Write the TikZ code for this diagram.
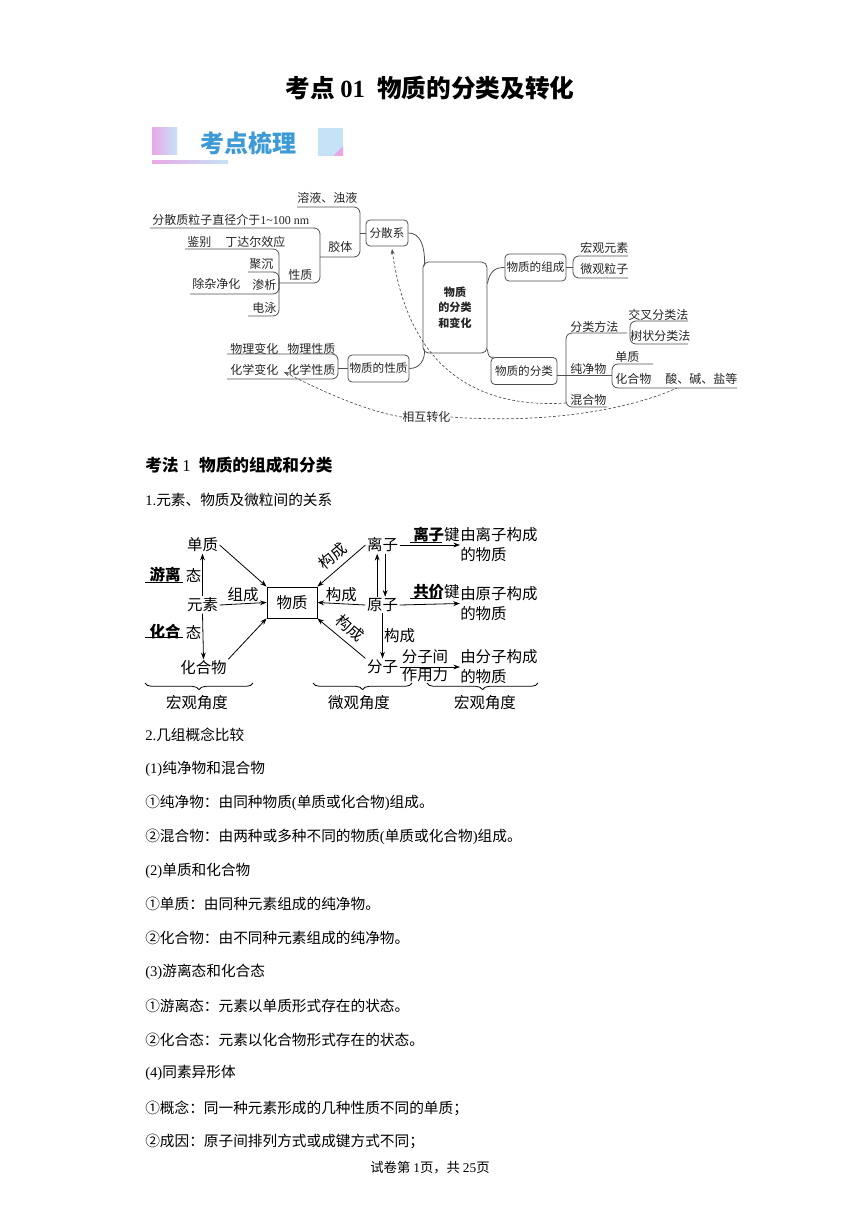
\documentclass[tikz,border=0pt]{standalone}
\usepackage{fontspec}
\setmainfont{Noto Sans CJK SC}
\newfontfamily\latf{Liberation Serif}
\newcommand\latn[1]{{\latf #1}}
\usetikzlibrary{decorations.pathreplacing,calc,arrows.meta}
\definecolor{bnblue}{HTML}{3C9AD6}
\definecolor{bnpink}{HTML}{E9A8E5}
\definecolor{bnlblue}{HTML}{C6E2F7}
\definecolor{lncol}{HTML}{505050}
\begin{document}
\begin{tikzpicture}[x=0.75pt,y=-0.75pt,
  tx/.style={inner sep=0pt, anchor=west},
  mm/.style={tx, font=\fontsize{9}{10}\selectfont, text=black!85},
  ln/.style={draw=lncol, line width=0.6pt, rounded corners=4.5pt},
  mmbox/.style={draw=lncol, line width=0.6pt, rounded corners=3pt, inner sep=0pt, font=\fontsize{8.7}{10}\selectfont, text=black!85},
  dsh/.style={draw=lncol, line width=0.5pt, dash pattern=on 2pt off 1.5pt},
  d2/.style={inner sep=1pt, font=\fontsize{11.6}{15}\selectfont},
  arr/.style={draw=black, line width=0.6pt, -{Stealth[length=5pt,width=3.6pt]}},
  brc/.style={draw=black, line width=0.6pt, decorate, decoration={brace, amplitude=5pt}},
  body/.style={tx, font=\fontsize{11}{13}\selectfont},
]
\useasboundingbox (0,0) rectangle (860,1216);
\fill[white] (0,0) rectangle (860,1216);

% ---------- title ----------
\node[font=\bfseries\fontsize{18.5}{20}\selectfont] (title) at (430,88) {考点 \latn{01}\hspace{0.5em}物质的分类及转化};

% ---------- banner ----------
\shade[left color=bnpink, right color=bnlblue] (152,128) rectangle (177,155);
\node[font=\bfseries\fontsize{18}{20}\selectfont, text=bnblue] (banner) at (248,143) {考点梳理};
\fill[bnlblue] (318,128) rectangle (343,156);
\fill[bnpink] (333,156) -- (343,156) -- (343,146) -- cycle;
\shade[left color=bnpink, right color=bnlblue] (152,161) rectangle (228,164);

% ---------- mind map boxes ----------
\node[mmbox, minimum width=31.5pt, minimum height=19.5pt] (fsx) at (387,233) {分散系};
\node[mmbox, minimum width=48pt, minimum height=68.25pt, rounded corners=4pt, align=center, font=\bfseries\fontsize{8.3}{11.6}\selectfont] (big) at (455,307.5) {物质\\的分类\\和变化};
\node[mmbox, minimum width=45.75pt, minimum height=20.25pt] (zc) at (535.5,267.5) {物质的组成};
\node[mmbox, minimum width=49.5pt, minimum height=20.25pt] (fl) at (524,371) {物质的分类};
\node[mmbox, minimum width=45.75pt, minimum height=20.25pt] (xz) at (378.5,368.5) {物质的性质};

% connections to the central box
\draw[ln] (fsx.east) .. controls (420,233) and (425,245) .. ($(big.north west)+(2,4)$);
\draw[ln] (xz.east) .. controls (420,368.5) and (425,360) .. ($(big.south west)+(2,-4)$);
\draw[ln] ($(big.north east)+(0,22)$) .. controls (490,270) and (496,267.5) .. (zc.west);
\draw[ln] ($(big.south east)+(0,-4)$) .. controls (488,356) and (490,358.5) .. ($(fl.north west)+(3,0)$);

% left brackets
\draw[ln] (297,207) -- (360,207) -- (360,257) -- (320,257);
\draw[ln] (360,233) -- (fsx.west);
\draw[ln] (150,228) -- (320,228) -- (320,283) -- (279,283);
\draw[ln] (185,249) -- (279,249) -- (279,316) -- (248,316);
\draw[ln] (248,272) -- (279,272) -- (279,290);
\draw[ln] (190,294) -- (279,294) -- (279,278);
\draw[ln] (227,354) -- (338,354) -- (338,379) -- (227,379);
\draw[ln] (338,368.5) -- (xz.west);

% right brackets
\draw[ln] (zc.east) -- (573,267.5);
\draw[ln] (628,256) -- (573,256) -- (573,278) -- (628,278);
\draw[ln] ($(fl.east)+(0,4)$) -- (612,375);
\draw[ln] (653,364) -- (612,364) -- (612,388) -- (737,388);
\draw[ln] (627,333) -- (566,333) -- (566,407) -- (607,407);
\draw[ln] (688,321) -- (630,321) -- (630,344) -- (688,344);

% mind map texts
\node[mm] (t1) at (297,198) {溶液、浊液};
\node[mm] (t2) at (152,220) {分散质粒子直径介于\latn{1\textasciitilde100 nm}};
\node[mm] (t3) at (328,247) {胶体};
\node[mm] (t4) at (187,242) {鉴别};
\node[mm] (t5) at (225,242) {丁达尔效应};
\node[mm] (t6) at (249,264) {聚沉};
\node[mm] (t7) at (252,285) {渗析};
\node[mm] (t8) at (252,308) {电泳};
\node[mm] (t9) at (192,284) {除杂净化};
\node[mm] (t10) at (288,275) {性质};
\node[mm] (t11) at (230,349) {物理变化};
\node[mm] (t12) at (287,349) {物理性质};
\node[mm] (t13) at (230,370) {化学变化};
\node[mm] (t14) at (287,370) {化学性质};
\node[mm] (t15) at (580,248) {宏观元素};
\node[mm] (t16) at (580,269) {微观粒子};
\node[mm] (t17) at (570,327) {分类方法};
\node[mm] (t18) at (628,315) {交叉分类法};
\node[mm] (t19) at (630,336) {树状分类法};
\node[mm] (t20) at (570,369) {纯净物};
\node[mm] (t21) at (615,357) {单质};
\node[mm] (t22) at (615,379) {化合物};
\node[mm] (t23) at (665,379) {酸、碱、盐等};
\node[mm] (t24) at (570,400) {混合物};
\node[mm] (hx) at (402,417) {相互转化};

% dashed connectors
\draw[dsh, -{Stealth[length=4pt,width=3pt]}] (hx.west) .. controls (360,410) and (310,385) .. (284,372);
\draw[dsh] (hx.east) .. controls (560,425) and (640,405) .. (677,388);
\draw[dsh, -{Stealth[length=4pt,width=3pt]}] (566,403) .. controls (490,408) and (410,380) .. (392,249);

% ---------- section 1 ----------
\node[tx, font=\bfseries\fontsize{12.5}{14}\selectfont] (kf) at (145,465) {考法 \latn{\mdseries 1}\hspace{0.5em}物质的组成和分类};
\node[body] (s1) at (145,500) {\latn{1.}元素、物质及微粒间的关系};

% diagram 2
\node[d2] (dz) at (202.5,545) {单质};
\node[d2] (ys) at (202.5,605) {元素};
\node[d2] (hhw) at (203.5,668) {化合物};
\node[d2, draw, line width=0.6pt, minimum width=37.5pt, minimum height=23.25pt] (wz) at (292,602.5) {物质};
\node[d2] (lz) at (382.5,545) {离子};
\node[d2] (yz) at (382.5,605) {原子};
\node[d2] (fz) at (382.5,667) {分子};

\node[d2, inner sep=0pt] (yl) at (165,575) {\bfseries 游离};
\node[d2, inner sep=0pt] (yl2) at (193.5,575) {态};
\draw[line width=0.6pt] (145,582) -- (183,582);
\node[d2, inner sep=0pt] (hh) at (165,632) {\bfseries 化合};
\node[d2, inner sep=0pt] (hh2) at (193.5,632) {态};
\draw[line width=0.6pt] (145,637) -- (183,637);

\draw[arr] (ys.north) -- (dz.south);
\draw[arr] (ys.south) -- (hhw.north);
\draw[arr] (dz.east) -- (wz.north west);
\draw[arr] (ys.east) -- (wz.west) node[d2, midway, above] {组成};
\draw[arr] (hhw.north east) -- (wz.south west);
\draw[arr] (lz.west) -- (wz.north east);
\node[d2, inner sep=0pt, rotate=40] (c1) at (333,556) {构成};
\draw[arr] (yz.west) -- (wz.east) node[d2, midway, above] {构成};
\draw[arr] (fz.north west) -- (wz.south east);
\node[d2, inner sep=0pt, rotate=-40] (c3) at (350,628) {构成};
\draw[arr] ([xshift=-4pt]yz.north) -- ([xshift=-4pt]lz.south);
\draw[arr] ([xshift=2pt]lz.south) -- ([xshift=2pt]yz.north);
\draw[arr] (yz.south) -- (fz.north) node[d2, midway, right] {构成};

\node[d2, tx, align=left, font=\fontsize{11.6}{15}\selectfont] (r1) at (460,545) {由离子构成\\的物质};
\node[d2, tx, align=left, font=\fontsize{11.6}{15}\selectfont] (r2) at (460,603.5) {由原子构成\\的物质};
\node[d2, tx, align=left, font=\fontsize{11.6}{15}\selectfont] (r3) at (460,667) {由分子构成\\的物质};
\draw[arr] (lz.east) -- (r1.west);
\draw[arr] (yz.east) -- (r2.west);
\draw[arr] (fz.east) -- (r3.west);
\node[d2, tx] (k1) at (413,535) {{\bfseries 离子}键};
\draw[line width=0.6pt] (410,542) -- (442,542);
\node[d2, tx] (k2) at (413,592) {{\bfseries 共价}键};
\draw[line width=0.6pt] (410,598) -- (442,598);
\node[d2, align=center, inner sep=0pt, font=\fontsize{11.6}{13.5}\selectfont] (k3) at (425,666) {分子间\\作用力};

\draw[brc] (253,683) -- (145,683);
\draw[brc] (412,683) -- (313,683);
\draw[brc] (538,683) -- (427,683);
\node[d2] (g1) at (197,703) {宏观角度};
\node[d2] (g2) at (359,703) {微观角度};
\node[d2] (g3) at (485,703) {宏观角度};

% ---------- body text ----------
\node[body] (b1) at (145,735) {\latn{2.}几组概念比较};
\node[body] (b2) at (145,769) {\latn{(1)}纯净物和混合物};
\node[body] (b3) at (145,803) {①纯净物：由同种物质\latn{(}单质或化合物\latn{)}组成。};
\node[body] (b4) at (145,837) {②混合物：由两种或多种不同的物质\latn{(}单质或化合物\latn{)}组成。};
\node[body] (b5) at (145,871) {\latn{(2)}单质和化合物};
\node[body] (b6) at (145,904) {①单质：由同种元素组成的纯净物。};
\node[body] (b7) at (145,938) {②化合物：由不同种元素组成的纯净物。};
\node[body] (b8) at (145,972) {\latn{(3)}游离态和化合态};
\node[body] (b9) at (145,1006) {①游离态：元素以单质形式存在的状态。};
\node[body] (b10) at (145,1040) {②化合态：元素以化合物形式存在的状态。};
\node[body] (b11) at (145,1073) {\latn{(4)}同素异形体};
\node[body] (b12) at (145,1108) {①概念：同一种元素形成的几种性质不同的单质；};
\node[body] (b13) at (145,1141) {②成因：原子间排列方式或成键方式不同；};
\node[font=\fontsize{10}{12}\selectfont] (foot) at (430,1168) {试卷第 \latn{1}页，共 \latn{25}页};
\end{tikzpicture}
\end{document}
